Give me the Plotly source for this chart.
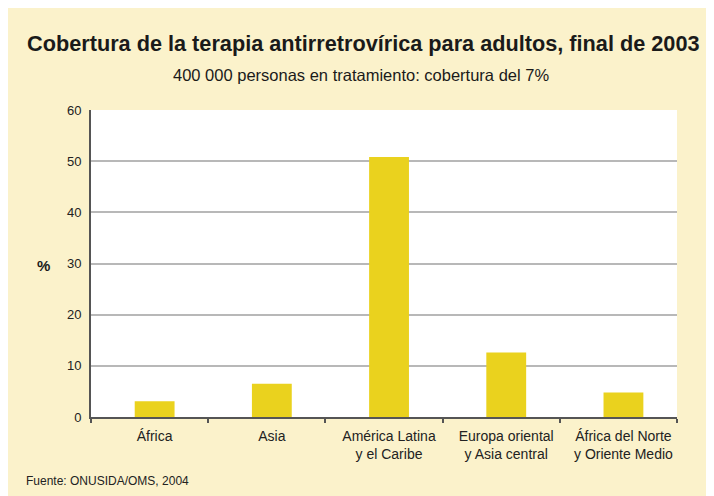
import plotly.graph_objects as go

categories = ["África", "Asia", "América Latina<br>y el Caribe",
              "Europa oriental<br>y Asia central", "África del Norte<br>y Oriente Medio"]
coverage = [3.1, 6.5, 50.8, 12.6, 4.8]
y_ticks = [0, 10, 20, 30, 40, 50, 60]

title = "Cobertura de la terapia antirretrovírica para adultos, final de 2003"
subtitle = "400 000 personas en tratamiento: cobertura del 7%"
source = "Fuente: ONUSIDA/OMS, 2004"

BG = "#FBF2CB"
BAR = "#EAD21E"
FONT = "Liberation Sans, Arial, sans-serif"

# page is drawn with an 8px body margin; figure fills the rest
OFF = 8
W, H = 714 - OFF, 496 - OFF
PL, PR, PT, PB = 91, 677, 110, 417          # plot area in page pixels
L, R, T, B = PL - OFF, (W + OFF) - PR, PT - OFF, (H + OFF) - PB
pw, ph = PR - PL, PB - PT

def px(xp):
    return (xp - PL) / pw

def py(yp):
    return (PB - yp) / ph

fig = go.Figure(go.Bar(
    x=categories, y=coverage, marker_color=BAR, marker_line_width=0,
    width=0.34, offset=-0.127,
))

fig.update_layout(
    width=W, height=H,
    margin=dict(l=L, r=R, t=T, b=B),
    paper_bgcolor=BG, plot_bgcolor="white",
    showlegend=False,
    font=dict(family=FONT, size=13, color="#222"),
    xaxis=dict(
        type="category", tickson="boundaries", ticks="outside", ticklen=4,
        tickcolor="#555", tickwidth=1.5, showline=True, linecolor="#555", linewidth=2,
        showgrid=False, tickfont=dict(family=FONT, size=14, color="#222"),
        range=[-0.5, 4.5], ticklabelstandoff=5, ticklabelshift=5,
    ),
    yaxis=dict(
        range=[0, 60], tickvals=y_ticks, showline=True, linecolor="#555", linewidth=2,
        showgrid=True, gridcolor="#B8B8B8", gridwidth=1.5, zeroline=False,
        ticks="", ticklabelstandoff=5,
        tickfont=dict(family=FONT, size=13, color="#222"),
    ),
    annotations=[
        dict(text=f"<b>{title}</b>", xref="paper", yref="paper", x=px(363), y=py(44),
             xanchor="center", yanchor="middle", showarrow=False,
             font=dict(family=FONT, size=21.7, color="#1a1a1a")),
        dict(text=subtitle, xref="paper", yref="paper", x=px(361), y=py(75),
             xanchor="center", yanchor="middle", showarrow=False,
             font=dict(family=FONT, size=16.5, color="#1a1a1a")),
        dict(text="<b>%</b>", xref="paper", yref="paper", x=px(43), y=py(265),
             xanchor="center", yanchor="middle", showarrow=False,
             font=dict(family=FONT, size=15, color="#1a1a1a")),
        dict(text=source, xref="paper", yref="paper", x=px(24), y=py(481),
             xanchor="left", yanchor="middle", showarrow=False,
             font=dict(family=FONT, size=12, color="#222")),
    ],
)

fig.write_html("out.html")
